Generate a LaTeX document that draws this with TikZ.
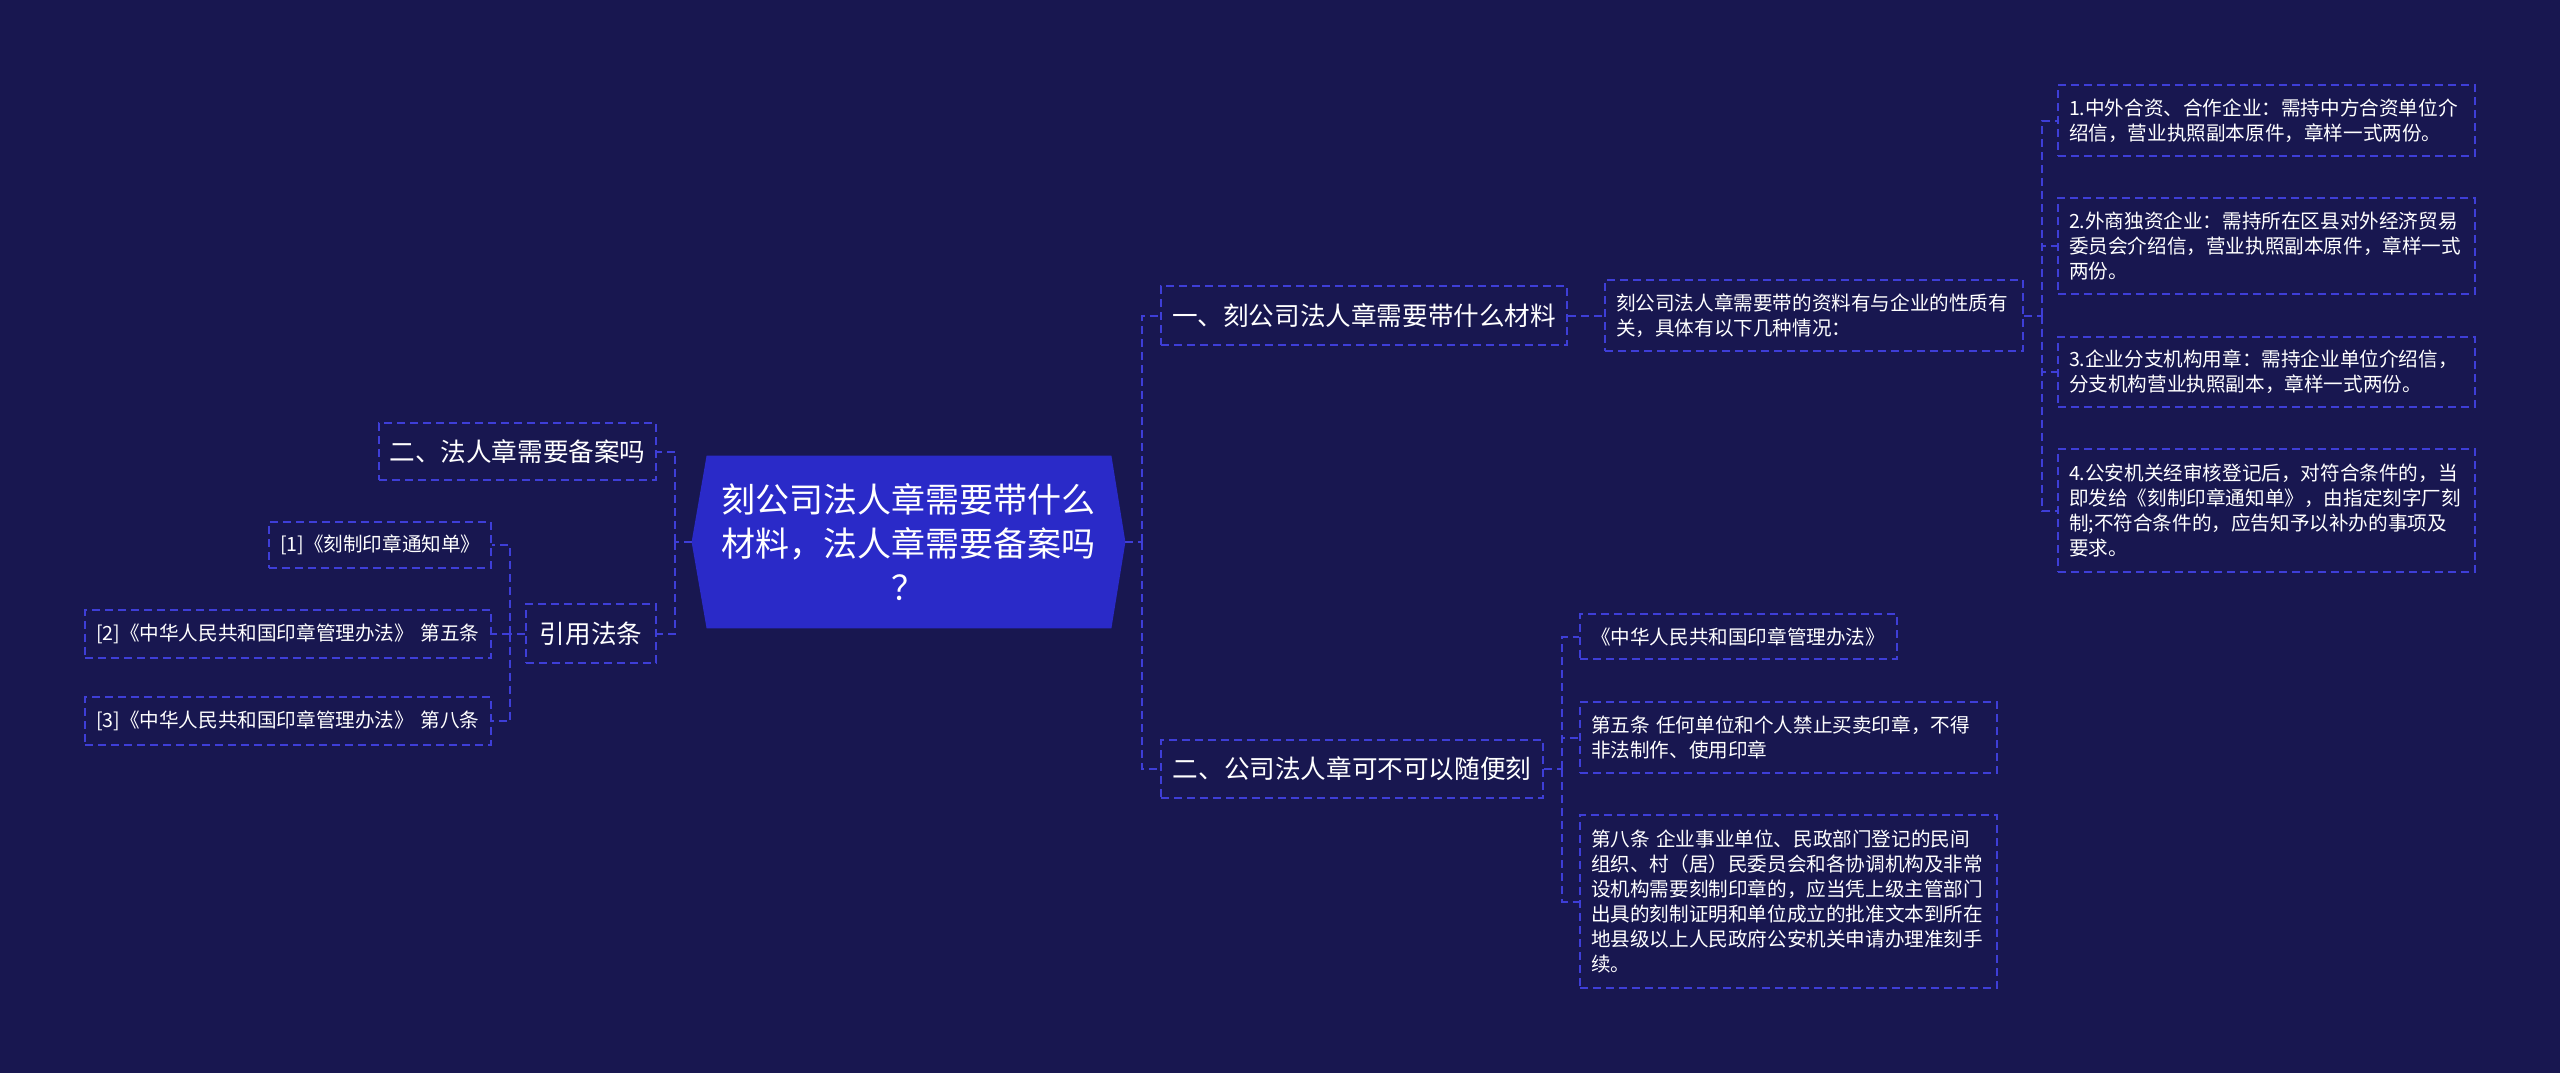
\documentclass[tikz,border=0pt]{standalone}
\usepackage{fontspec}
\setmainfont{Noto Sans CJK SC}
\usepackage{xcolor}
\usepackage{tikz}
\usetikzlibrary{backgrounds}

\definecolor{pagenavy}{RGB}{24,23,80}
\definecolor{hubblue}{RGB}{42,42,200}
\definecolor{linkblue}{RGB}{62,62,215}

\begin{document}
\begin{tikzpicture}[
    x=0.5pt, y=-0.5pt,
    hub/.style={rectangle, minimum width=216.5pt, minimum height=86pt, align=center, text=white, font=\fontsize{17}{22}\selectfont},
    topic/.style={rectangle, draw=linkblue, line width=1pt, dash pattern=on 4pt off 2.5pt, align=center, text=white, font=\fontsize{12.8}{16}\selectfont, inner sep=2pt},
    leaf/.style={rectangle, draw=linkblue, line width=1pt, dash pattern=on 4pt off 2.5pt, align=left, text=white, font=\fontsize{9.8}{12.5}\selectfont, inner xsep=5.5pt, inner ysep=2pt},
    link/.style={draw=linkblue, line width=1pt, dash pattern=on 4pt off 2.5pt}
]
    \useasboundingbox (0,0) rectangle (2560,1073);

    % Central topic
    \node[hub] (hub) at (908.5,542) {刻公司法人章需要带什么\\材料，法人章需要备案吗\\？};

    % Right branches
    \node[topic, minimum width=203pt, minimum height=29.5pt] (materials) at (1364,315.5) {一、刻公司法人章需要带什么材料};
    \node[topic, minimum width=191pt, minimum height=29pt] (casual) at (1352,769) {二、公司法人章可不可以随便刻};

    % Materials detail
    \node[leaf, text width=198pt, minimum height=35.5pt] (intro) at (1814,315.5) {刻公司法人章需要带的资料有与企业的性质有\\关，具体有以下几种情况：};
    \node[leaf, text width=197.5pt, minimum height=35.5pt] (jointven) at (2266.5,120.5) {1.中外合资、合作企业：需持中方合资单位介\\绍信，营业执照副本原件，章样一式两份。};
    \node[leaf, text width=197.5pt, minimum height=48pt] (foreign) at (2266.5,246) {2.外商独资企业：需持所在区县对外经济贸易\\委员会介绍信，营业执照副本原件，章样一式\\两份。};
    \node[leaf, text width=197.5pt, minimum height=35pt] (branch) at (2266.5,372) {3.企业分支机构用章：需持企业单位介绍信，\\分支机构营业执照副本，章样一式两份。};
    \node[leaf, text width=197.5pt, minimum height=61.5pt] (police) at (2266.5,510.5) {4.公安机关经审核登记后，对符合条件的，当\\即发给《刻制印章通知单》，由指定刻字厂刻\\制;不符合条件的，应告知予以补办的事项及\\要求。};

    % Law text
    \node[leaf, text width=147.5pt, minimum height=22.5pt] (lawname) at (1738.5,636.5) {《中华人民共和国印章管理办法》};
    \node[leaf, text width=197.5pt, minimum height=35.5pt] (art5) at (1788.5,737.5) {第五条 任何单位和个人禁止买卖印章，不得\\非法制作、使用印章};
    \node[leaf, text width=197.5pt, minimum height=86.5pt] (art8) at (1788.5,901.5) {第八条 企业事业单位、民政部门登记的民间\\组织、村（居）民委员会和各协调机构及非常\\设机构需要刻制印章的，应当凭上级主管部门\\出具的刻制证明和单位成立的批准文本到所在\\地县级以上人民政府公安机关申请办理准刻手\\续。};

    % Left branches
    \node[topic, minimum width=138.5pt, minimum height=28.5pt] (record) at (517.5,451.5) {二、法人章需要备案吗};
    \node[topic, minimum width=65pt, minimum height=29.5pt] (cite) at (591,633.5) {引用法条};

    % References
    \node[leaf, text width=100pt, minimum height=23pt] (ref1) at (380,545) {[1]《刻制印章通知单》};
    \node[leaf, text width=192pt, minimum height=24pt] (ref2) at (288,633.5) {[2]《中华人民共和国印章管理办法》 第五条};
    \node[leaf, text width=192pt, minimum height=24pt] (ref3) at (288,721) {[3]《中华人民共和国印章管理办法》 第八条};

    % Spines
    \coordinate (rspine) at (1142,542);
    \coordinate (lspine) at (675,542);
    \coordinate (ispine) at (2042,315.5);
    \coordinate (lawspine) at (1562,769);
    \coordinate (refspine) at (510,633.5);

    % Connectors
    \draw[link] (hub.east) -- (rspine);
    \draw[link] (rspine) |- (materials.west);
    \draw[link] (rspine) |- (casual.west);
    \draw[link] (materials.east) -- (intro.west);
    \draw[link] (intro.east) -- (ispine);
    \draw[link] (ispine) |- (jointven.west);
    \draw[link] (ispine) |- (foreign.west);
    \draw[link] (ispine) |- (branch.west);
    \draw[link] (ispine) |- (police.west);
    \draw[link] (casual.east) -- (lawspine);
    \draw[link] (lawspine) |- (lawname.west);
    \draw[link] (lawspine) |- (art5.west);
    \draw[link] (lawspine) |- (art8.west);
    \draw[link] (hub.west) -- (lspine);
    \draw[link] (lspine) |- (record.east);
    \draw[link] (lspine) |- (cite.east);
    \draw[link] (cite.west) -- (refspine);
    \draw[link] (refspine) |- (ref1.east);
    \draw[link] (refspine) |- (ref2.east);
    \draw[link] (refspine) |- (ref3.east);

    % Page and hub fill
    \begin{scope}[on background layer]
        \fill[pagenavy] (0,0) rectangle (2560,1073);
        \fill[hubblue] (hub.west) -- ([xshift=7.5pt]hub.north west) -- ([xshift=-7pt]hub.north east) -- (hub.east) -- ([xshift=-7pt]hub.south east) -- ([xshift=7.5pt]hub.south west) -- cycle;
    \end{scope}
\end{tikzpicture}
\end{document}
